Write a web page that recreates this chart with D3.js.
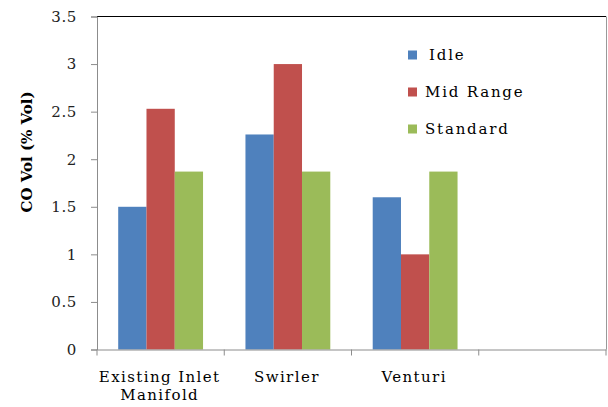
<!DOCTYPE html>
<html>
<head>
<meta charset="utf-8">
<script src="https://cdn.jsdelivr.net/npm/d3@7"></script>
<style>
  html, body { margin: 0; padding: 0; background: #fff; }
  svg { display: block; }
  svg text { font-family: "DejaVu Serif", "Liberation Serif", serif; fill: #000; }
</style>
</head>
<body>
<script>
// CO emissions by intake design, grouped by engine condition
const categories = ["Existing Inlet Manifold", "Swirler", "Venturi", ""];
const seriesNames = ["Idle", "Mid Range", "Standard"];
const idle = [1.5, 2.26, 1.6, null];
const midRange = [2.53, 3.0, 1.0, null];
const standard = [1.87, 1.87, 1.87, null];
const yTicks = [0, 0.5, 1, 1.5, 2, 2.5, 3, 3.5];
const colors = ["#4f81bd", "#c0504d", "#9bbb59"];

const W = 608, H = 407;
const m = { left: 97, right: 2, top: 16.5, bottom: 57.5 };
const serif = "'DejaVu Serif', 'Liberation Serif', serif";

const svg = d3.select("body").append("svg").attr("width", W).attr("height", H);

const x0 = d3.scaleBand().domain(categories.map((c, i) => i))
  .range([m.left, W - m.right]).paddingInner(0).paddingOuter(0);
const x1 = d3.scaleBand().domain(seriesNames)
  .range([0, x0.bandwidth()]).paddingInner(0).paddingOuter(0.75);
const y = d3.scaleLinear().domain([0, 3.5]).range([H - m.bottom, m.top]);

const series = [idle, midRange, standard];

// bars
const groups = svg.append("g").selectAll("g")
  .data(categories.map((c, i) => i))
  .join("g")
  .attr("transform", i => `translate(${x0(i)},0)`);

groups.selectAll("rect")
  .data(i => seriesNames.map((s, k) => ({ s, k, v: series[k][i] })).filter(d => d.v != null))
  .join("rect")
  .attr("x", d => x1(d.s))
  .attr("width", x1.bandwidth())
  .attr("y", d => y(d.v))
  .attr("height", d => y(0) - y(d.v))
  .attr("fill", d => colors[d.k]);

// frame: top black line, right gray line
svg.append("line").attr("x1", m.left).attr("x2", W - m.right)
  .attr("y1", m.top).attr("y2", m.top).attr("stroke", "#000").attr("stroke-width", 1.2);
svg.append("line").attr("x1", W - m.right + 0.5).attr("x2", W - m.right + 0.5)
  .attr("y1", m.top).attr("y2", y(0)).attr("stroke", "#999");

// y axis
const yAxis = svg.append("g")
  .attr("transform", `translate(${m.left},0)`)
  .call(d3.axisLeft(y).tickValues(yTicks).tickSize(6).tickPadding(14)
    .tickFormat(d => d3.format("")(d)));
yAxis.attr("font-family", null).attr("font-size", null);
yAxis.select(".domain").attr("stroke", "#8c8c8c");
yAxis.selectAll(".tick line").attr("stroke", "#8c8c8c");
yAxis.selectAll(".tick text").style("font-size", "15px").style("fill", "#222")
  .style("font-family", serif).style("letter-spacing", "0.6px");

// x axis
const xAxis = svg.append("g")
  .attr("transform", `translate(0,${y(0)})`)
  .call(d3.axisBottom(x0).tickValues([]).tickSizeOuter(0));
xAxis.select(".domain").attr("stroke", "#8c8c8c");
const bounds = d3.range(categories.length + 1).map(i => m.left + i * x0.step());
xAxis.selectAll("line.sep").data(bounds).join("line").attr("class", "sep")
  .attr("x1", d => d).attr("x2", d => d).attr("y1", 0).attr("y2", 6)
  .attr("stroke", "#8c8c8c");

// category labels (wrapped)
const labelLines = c => c === "Existing Inlet Manifold" ? ["Existing Inlet", "Manifold"] : [c];
svg.append("g").selectAll("text")
  .data(categories.map((c, i) => ({ c, i })))
  .join("text")
  .attr("text-anchor", "middle")
  .style("font-size", "15px")
  .style("font-family", serif)
  .style("letter-spacing", "1.4px")
  .attr("x", d => x0(d.i) + x0.bandwidth() / 2)
  .attr("y", 382)
  .each(function (d) {
    d3.select(this).selectAll("tspan").data(labelLines(d.c)).join("tspan")
      .attr("x", x0(d.i) + x0.bandwidth() / 2 - 1)
      .attr("dy", (t, j) => j === 0 ? 0 : 18)
      .text(t => t);
  });

// y axis title
svg.append("text")
  .attr("transform", "translate(32,152) rotate(-90)")
  .attr("text-anchor", "middle")
  .style("font-size", "15px")
  .style("font-weight", "bold")
  .style("font-family", serif)
  .text("CO Vol (% Vol)");

// legend
const legend = svg.append("g").selectAll("g")
  .data(seriesNames)
  .join("g")
  .attr("transform", (d, k) => `translate(408,${55 + k * 37})`);
legend.append("rect").attr("x", 0).attr("y", -4.5).attr("width", 9).attr("height", 9)
  .attr("fill", (d, k) => colors[k]);
legend.append("text").attr("x", (d, k) => k === 0 ? 21 : 17).attr("y", 5)
  .style("font-size", "15px").style("font-family", serif)
  .style("letter-spacing", "1.8px").text(d => d);
</script>
</body>
</html>
